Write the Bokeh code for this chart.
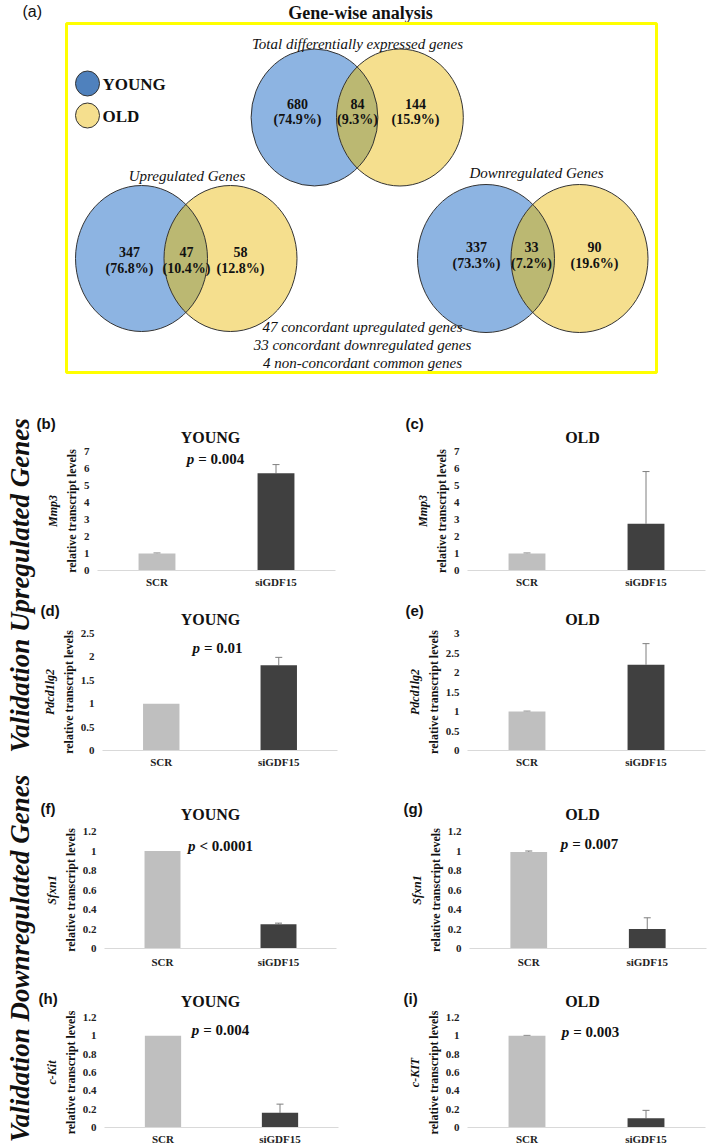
import numpy as np
from bokeh.plotting import figure
from bokeh.models import (Range1d, FactorRange, Label, Whisker, TeeHead,
                          ColumnDataSource, LinearAxis, FixedTicker, NumeralTickFormatter)
from bokeh.layouts import column, row
from bokeh.embed import file_html
from bokeh.resources import INLINE
from bokeh.core.properties import value

SERIF = "Liberation Serif"
SANS = "Liberation Sans"

# ---------------- data ----------------
venn_names = ["Total differentially expressed genes", "Upregulated Genes", "Downregulated Genes"]
young_only = [680, 347, 337]
shared = [84, 47, 33]
old_only = [144, 58, 90]
young_pct = [74.9, 76.8, 73.3]
shared_pct = [9.3, 10.4, 7.2]
old_pct = [15.9, 12.8, 19.6]
legend_groups = ["YOUNG", "OLD"]
summary_lines = ["47 concordant upregulated genes",
                 "33 concordant downregulated genes",
                 "4 non-concordant common genes"]

conditions = ["SCR", "siGDF15"]
panel_tags = ["(b)", "(c)", "(d)", "(e)", "(f)", "(g)", "(h)", "(i)"]
panel_groups = ["YOUNG", "OLD", "YOUNG", "OLD", "YOUNG", "OLD", "YOUNG", "OLD"]
panel_genes = ["Mmp3", "Mmp3", "Pdcd1lg2", "Pdcd1lg2", "Sfxn1", "Sfxn1", "c-Kit", "c-KIT"]
scr_mean = [1.00, 1.00, 1.00, 1.00, 1.00, 0.99, 1.00, 1.00]
scr_err = [0.03, 0.03, 0.00, 0.01, 0.00, 0.01, 0.00, 0.005]
si_mean = [5.72, 2.75, 1.82, 2.20, 0.25, 0.20, 0.16, 0.10]
si_err = [0.51, 3.07, 0.17, 0.54, 0.01, 0.115, 0.095, 0.087]
p_op = ["=", "", "=", "", "<", "=", "=", "="]
p_val = ["0.004", "", "0.01", "", "0.0001", "0.007", "0.004", "0.003"]
y_top = [7, 7, 2.5, 3, 1.2, 1.2, 1.2, 1.2]
y_step = [1, 1, 0.5, 0.5, 0.2, 0.2, 0.2, 0.2]
section_titles = ["Validation Upregulated Genes", "Validation Downregulated Genes"]

# ---------------- style ----------------
BLUE = "#8DB4E2"
YELLOW = "#F5DF8E"
OLIVE = "#BBB872"
LEG_BLUE = "#4F81BD"
EDGE = "#333333"
TXT = "#111111"
BAR_COLORS = ["#BFBFBF", "#404040"]
ERR_COLOR = "#7F7F7F"
PAGE_W = 709


def base_fig(w, h, xr, yr):
    p = figure(width=w, height=h, x_range=xr, y_range=yr, output_backend="svg",
               toolbar_location=None, x_axis_type=None, y_axis_type=None, min_border=0)
    p.outline_line_color = None
    return p


def txt(p, xs, ys, texts, font=SERIF, style="normal", size="14px", align="center", **kw):
    p.text(x=xs, y=ys, text=texts, text_font=value(font), text_font_style=style,
           text_font_size=size, text_align=align, text_baseline="middle",
           text_color=TXT, **kw)


# ================= (a) Venn panel (pixel layout, y downwards) =================
VH = 378
venn = base_fig(PAGE_W, VH, Range1d(0, PAGE_W), Range1d(VH, 0))

txt(venn, [22], [11], ["(a)"], font=SANS, size="16px", align="left")
txt(venn, [360], [12], ["Gene-wise analysis"], style="bold", size="18px")
venn.quad(left=[66], right=[656], top=[23], bottom=[372], fill_color=None,
          line_color="#FFFF00", line_width=3)

venn.ellipse(x=[87, 87], y=[83, 115], width=[24, 24], height=[25, 25],
             fill_color=[LEG_BLUE, YELLOW], line_color=EDGE, line_width=1)
txt(venn, [102, 102], [84, 116], legend_groups, style="bold", size="17px", align="left")

GEOM = [
    dict(bx=314, ox=399.4, cy=117, ba=63.4, oa=63.4, b=68.5, tx=357, ty=43,
         lx=(297, 357, 415), ly=(103, 119)),
    dict(bx=141, ox=230, cy=258, ba=66, oa=66.5, b=73, tx=186.5, ty=175,
         lx=(129, 186, 240), ly=(251, 268)),
    dict(bx=485.5, ox=579, cy=258, ba=68.5, oa=68.5, b=74, tx=536, ty=172,
         lx=(476, 531, 594), ly=(246, 263)),
]


def lens(cx1, cx2, cy, a1, a2, b):
    t1 = np.linspace(-np.pi, np.pi, 1441)
    x1 = cx1 + a1 * np.cos(t1)
    y1 = cy + b * np.sin(t1)
    m1 = ((x1 - cx2) / a2) ** 2 + ((y1 - cy) / b) ** 2 <= 1
    t2 = np.linspace(0, 2 * np.pi, 1441)
    x2 = cx2 + a2 * np.cos(t2)
    y2 = cy + b * np.sin(t2)
    m2 = ((x2 - cx1) / a1) ** 2 + ((y2 - cy) / b) ** 2 <= 1
    return np.concatenate([x1[m1], x2[m2]]), np.concatenate([y1[m1], y2[m2]])


for k, g in enumerate(GEOM):
    xs = [g["bx"], g["ox"]]
    ys = [g["cy"], g["cy"]]
    ws = [2 * g["ba"], 2 * g["oa"]]
    hs = [2 * g["b"], 2 * g["b"]]
    venn.ellipse(x=xs, y=ys, width=ws, height=hs, fill_color=[BLUE, YELLOW], line_color=None)
    lx, ly = lens(g["bx"], g["ox"], g["cy"], g["ba"], g["oa"], g["b"])
    venn.patch(x=lx, y=ly, fill_color=OLIVE, line_color=None)
    venn.ellipse(x=xs, y=ys, width=ws, height=hs, fill_color=None, line_color=EDGE,
                 line_width=1)
    txt(venn, [g["tx"]], [g["ty"]], [venn_names[k]], style="italic", size="15px")
    counts = [young_only[k], shared[k], old_only[k]]
    pcts = [young_pct[k], shared_pct[k], old_pct[k]]
    txt(venn, list(g["lx"]), [g["ly"][0]] * 3, [str(c) for c in counts], style="bold",
        size="14px")
    txt(venn, list(g["lx"]), [g["ly"][1]] * 3, ["(%.1f%%)" % v for v in pcts],
        style="bold", size="14px")

txt(venn, [362, 362, 362], [326, 344, 362], summary_lines, style="italic", size="15px")

# ================= lower part: section labels + bar panels =================
Y0, Y1 = 378, 1147
LAB_W = 36
lab = base_fig(LAB_W, Y1 - Y0, Range1d(0, LAB_W), Range1d(Y1, Y0))
txt(lab, [19, 19], [585, 958], section_titles, style="bold italic", size="27px",
    angle=np.pi / 2)

# pixel layout of the four panel rows
HEAD = [(378, 445), (590, 627), (770, 822), (970, 1009)]       # header strips
PANEL_END = [590, 770, 970, 1147]
FRAME_TOP = [451, 451, 633, 633, 831, 828, 1017, 1015]
FRAME_BOT = [570, 752, 949, 1130]
FRAME_X = [(97, 335), (467, 705), (102, 337), (467, 705), (104, 336), (469, 706),
           (104, 338), (467, 705)]
COL_SPAN = [(LAB_W, 360), (360, PAGE_W)]
TAG_X = [36, 405, 40, 405, 40, 403, 38, 403]
TAG_Y = [423, 610, 808, 998]
TITLE_X = [210, 582]
TITLE_Y = [437, 619, 814, 1001]
XLAB_STANDOFF = [5, 5, 7, 5]
P_PIX = [(215, 458), None, (217, 648), None, (220, 846), (589, 841), (220, 1030),
         (590, 1030)]
P_SIZE = 15


def em_width(s):
    w = 0.0
    for ch in s:
        if ch.isdigit():
            w += 0.5
        elif ch in ". ":
            w += 0.25
        elif ch in "=<":
            w += 0.57
        else:
            w += 0.5
    return w


def make_panel(i, top_px):
    r, c = divmod(i, 2)
    ft, fb = FRAME_TOP[i], FRAME_BOT[r]
    ry1 = PANEL_END[r]
    cx0, cx1 = COL_SPAN[c]
    gx0, gx1 = FRAME_X[i]
    p = figure(width=cx1 - cx0, height=ry1 - top_px, x_range=FactorRange(factors=conditions),
               y_range=Range1d(0, y_top[i]), output_backend="svg", toolbar_location=None,
               min_border_left=gx0 - cx0, min_border_right=cx1 - gx1,
               min_border_top=ft - top_px, min_border_bottom=ry1 - fb)
    p.outline_line_color = None
    p.xgrid.visible = False
    p.ygrid.visible = False

    src = ColumnDataSource(dict(cond=conditions, mean=[scr_mean[i], si_mean[i]],
                                color=BAR_COLORS))
    p.vbar(x="cond", top="mean", width=0.31, fill_color="color", line_color=None, source=src)

    means = [scr_mean[i], si_mean[i]]
    errs = [scr_err[i], si_err[i]]
    keep = [k for k in range(2) if errs[k] > 0]
    wsrc = ColumnDataSource(dict(cond=[conditions[k] for k in keep],
                                 lo=[means[k] for k in keep],
                                 hi=[means[k] + errs[k] for k in keep]))
    p.add_layout(Whisker(source=wsrc, base="cond", lower="lo", upper="hi", dimension="height",
                         line_color=ERR_COLOR, line_width=1, lower_head=None,
                         upper_head=TeeHead(size=7, line_color=ERR_COLOR, line_width=1)))

    xa = p.xaxis[0]
    xa.axis_line_color = "#D9D9D9"
    xa.major_tick_line_color = None
    xa.major_tick_out = 0
    xa.major_tick_in = 0
    xa.minor_tick_line_color = None
    xa.major_label_text_font = SERIF
    xa.major_label_text_font_style = "bold"
    xa.major_label_text_font_size = "11px"
    xa.major_label_text_color = "#222222"
    xa.major_label_standoff = XLAB_STANDOFF[r]

    ya = p.yaxis[0]
    ticks = [round(float(v), 2) for v in np.arange(0, y_top[i] + 1e-9, y_step[i])]
    ya.ticker = FixedTicker(ticks=ticks)
    ya.formatter = NumeralTickFormatter(format="0.[0]")
    ya.axis_line_color = None
    ya.major_tick_line_color = None
    ya.major_tick_out = 0
    ya.major_tick_in = 0
    ya.minor_tick_line_color = None
    ya.major_label_text_font = SERIF
    ya.major_label_text_font_style = "bold"
    ya.major_label_text_font_size = "11px"
    ya.major_label_text_color = "#222222"
    ya.major_label_standoff = 8
    ya.axis_label = "relative transcript levels"
    ya.axis_label_text_font = SERIF
    ya.axis_label_text_font_style = "bold"
    ya.axis_label_text_font_size = "12px"
    ya.axis_label_text_color = TXT
    ya.axis_label_standoff = 2

    ga = LinearAxis(ticker=FixedTicker(ticks=[]), axis_label=panel_genes[i],
                    axis_line_color=None, major_tick_line_color=None,
                    major_tick_out=0, major_tick_in=0,
                    minor_tick_line_color=None, major_label_standoff=0,
                    axis_label_standoff=2, axis_label_text_font=SERIF,
                    axis_label_text_font_style="bold italic",
                    axis_label_text_font_size="12px", axis_label_text_color=TXT)
    p.add_layout(ga, "left")

    if p_val[i]:
        ppx = (gx1 - gx0) / 2.0
        ppy = (fb - ft) / float(y_top[i])
        px_pix, py_pix = P_PIX[i]
        px = (px_pix - gx0) / ppx
        py = (fb - py_pix) / ppy
        rest = "%s %s" % (p_op[i], p_val[i])
        w_p = 0.5 * P_SIZE
        gap = 4
        w_r = em_width(rest) * P_SIZE
        split = -(w_p + gap + w_r) / 2.0 + w_p
        p.add_layout(Label(x=px, y=py, x_offset=split, text="p", text_font=SERIF,
                           text_font_style="bold italic", text_font_size="%dpx" % P_SIZE,
                           text_align="right", text_baseline="middle", text_color=TXT))
        p.add_layout(Label(x=px, y=py, x_offset=split + gap, text=rest, text_font=SERIF,
                           text_font_style="bold", text_font_size="%dpx" % P_SIZE,
                           text_align="left", text_baseline="middle", text_color=TXT))
    return p


blocks = []
for r in range(4):
    h0, h1 = HEAD[r]
    head = base_fig(PAGE_W - LAB_W, h1 - h0, Range1d(LAB_W, PAGE_W), Range1d(h1, h0))
    il, ir = 2 * r, 2 * r + 1
    txt(head, [TAG_X[il], TAG_X[ir]], [TAG_Y[r]] * 2, [panel_tags[il], panel_tags[ir]],
        font=SANS, style="bold", size="15px", align="left")
    txt(head, TITLE_X, [TITLE_Y[r]] * 2, [panel_groups[il], panel_groups[ir]],
        style="bold", size="16px")
    blocks.append(head)
    blocks.append(row(make_panel(il, h1), make_panel(ir, h1)))

bars = column(*blocks)
layout = column(venn, row(lab, bars))

open("out.html", "w").write(file_html(layout, INLINE, title="Gene-wise analysis"))
